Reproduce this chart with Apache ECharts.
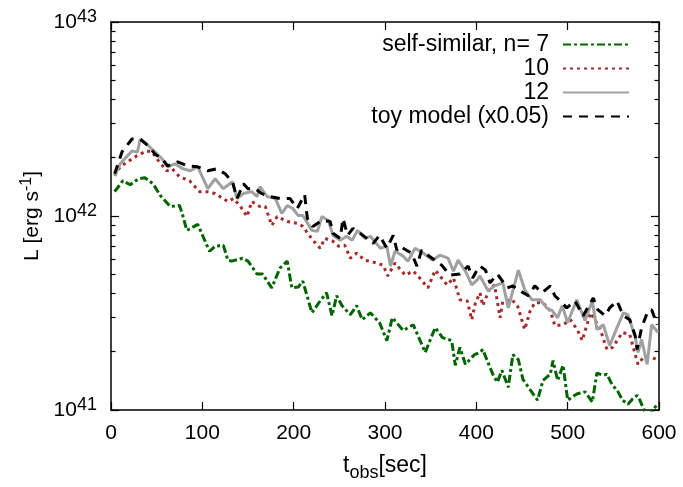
<!DOCTYPE html>
<html>
<head>
<meta charset="utf-8">
<script src="https://cdn.jsdelivr.net/npm/echarts@6/dist/echarts.min.js"></script>
<style>
  html, body { margin: 0; padding: 0; background: #fff; }
  #chart { width: 683px; height: 487px; }
</style>
</head>
<body>
<div id="chart"></div>
<script>
// Light curves L(t_obs): [time in s, luminosity in erg/s]
const selfSimilarN7 = [
  [4,13.35e41],[13,15.2e41],[21,14.5e41],[30,15.56e41],[37,15.74e41],[46,14.67e41],[54,12.74e41],[65,11.19e41],
  [75,11.32e41],[78,10.3e41],[83,8.43e41],[95,9.05e41],[105,7.06e41],[108,6.58e41],[114,6.99e41],[123,7.06e41],
  [128,5.92e41],[132,5.85e41],[144,6.06e41],[150,5.85e41],[160,5.02e41],[166,5.02e41],[176,4.26e41],[185,5.39e41],
  [193,5.85e41],[198,4.26e41],[205,4.3e41],[210,4.62e41],[220,3.17e41],[229,3.65e41],[236,4.02e41],[242,3.06e41],
  [247,3.88e41],[253,3.45e41],[262,3.10e41],[269,3.45e41],[275,2.92e41],[284,3.17e41],[294,2.82e41],[302,2.28e41],
  [308,2.99e41],[320,2.57e41],[331,2.75e41],[344,1.98e41],[355,2.66e41],[363,2.36e41],[373,2.28e41],[377,1.70e41],
  [382,2.10e41],[388,1.72e41],[398,1.93e41],[404,1.98e41],[407,2.05e41],[418,1.53e41],[423,1.39e41],[428,1.60e41],
  [435,1.31e41],[440,1.93e41],[446,1.82e41],[451,1.44e41],[459,1.27e41],[467,1.125e41],[473,1.42e41],[481,1.53e41],
  [484,1.80e41],[489,1.42e41],[495,1.70e41],[500,1.125e41],[510,1.21e41],[519,1.24e41],[527,1.10e41],[532,1.55e41],
  [539,1.51e41],[543,1.53e41],[549,1.34e41],[554,1.27e41],[560,1.125e41],[566,1.07e41],[571,1.14e41],[576,1.19e41],
  [579,1.125e41],[585,0.97e41],[590,0.95e41],[598,1.07e41]
];
const selfSimilarN10 = [
  [4,16.12e41],[10,17.93e41],[18,19.01e41],[28,20.4e41],[39,21.65e41],[45,21.39e41],[52,19.24e41],[61,17.1e41],
  [67,17.5e41],[75,15.94e41],[86,15.2e41],[97,13.35e41],[105,13.35e41],[114,13.05e41],[128,11.87e41],[134,12.3e41],
  [141,11.32e41],[149,9.94e41],[154,11.87e41],[163,11.19e41],[169,11.19e41],[176,8.94e41],[182,9.94e41],[193,9.37e41],
  [204,9.16e41],[210,8.84e41],[221,7.50e41],[229,6.82e41],[234,7.67e41],[243,7.41e41],[249,6.99e41],[256,7.06e41],
  [262,6.06e41],[269,6.43e41],[278,5.92e41],[291,5.72e41],[298,5.58e41],[303,4.91e41],[311,5.72e41],[322,4.96e41],
  [331,5.20e41],[338,4.79e41],[347,4.26e41],[355,5.26e41],[362,4.79e41],[368,4.41e41],[375,4.79e41],[382,3.70e41],
  [390,3.65e41],[395,2.92e41],[399,3.57e41],[404,4.02e41],[407,3.45e41],[415,4.26e41],[420,4.41e41],[426,2.99e41],
  [429,3.65e41],[439,3.70e41],[445,3.45e41],[453,2.60e41],[459,3.25e41],[464,3.57e41],[473,3.57e41],[481,3.25e41],
  [486,2.72e41],[495,2.75e41],[503,2.92e41],[511,2.57e41],[516,2.28e41],[525,3.17e41],[535,2.66e41],[543,2.05e41],
  [549,2.10e41],[560,2.51e41],[568,2.45e41],[574,1.93e41],[577,1.72e41],[583,1.87e41],[590,1.87e41],[599,1.82e41]
];
const selfSimilarN12 = [
  [4,16.12e41],[10,18.57e41],[23,21.65e41],[29,21.39e41],[32,24.93e41],[39,23.5e41],[48,21.39e41],[56,19.7e41],
  [62,17.93e41],[70,18.57e41],[79,17.5e41],[87,17.1e41],[95,17.93e41],[106,13.83e41],[114,15.56e41],[123,13.83e41],
  [133,15.02e41],[138,12.3e41],[145,13.05e41],[154,13.35e41],[160,12.6e41],[163,14.17e41],[171,12.6e41],[180,12.3e41],
  [187,10.3e41],[193,11.32e41],[199,10.93e41],[205,10.05e41],[210,10.05e41],[220,8.43e41],[226,8.33e41],[231,9.94e41],
  [238,9.49e41],[243,7.95e41],[251,7.50e41],[258,7.86e41],[264,7.50e41],[270,8.43e41],[278,7.67e41],[284,7.86e41],
  [295,6.82e41],[302,6.99e41],[306,5.52e41],[311,6.58e41],[320,6.21e41],[325,5.85e41],[333,6.82e41],[342,6.43e41],
  [352,5.92e41],[360,6.28e41],[369,6.06e41],[375,5.20e41],[380,5.92e41],[388,5.20e41],[395,4.41e41],[401,4.68e41],
  [404,4.91e41],[413,4.11e41],[420,4.36e41],[429,4.52e41],[435,3.36e41],[446,5.26e41],[453,4.16e41],[461,3.70e41],
  [470,3.70e41],[477,3.36e41],[483,3.25e41],[489,2.99e41],[494,3.45e41],[500,2.82e41],[510,3.70e41],[519,2.89e41],
  [527,3.65e41],[532,2.60e41],[539,2.75e41],[546,2.15e41],[554,2.66e41],[561,3.17e41],[566,3.10e41],[574,2.36e41],
  [577,1.98e41],[581,2.31e41],[587,1.72e41],[592,2.75e41],[599,2.51e41]
];
const toyModel = [
  [4,16.5e41],[12,21.39e41],[23,24.93e41],[32,24.93e41],[41,22.95e41],[48,20.9e41],[56,19.7e41],[62,18.13e41],
  [73,19.01e41],[84,18.13e41],[95,17.93e41],[106,17.1e41],[116,17.5e41],[125,16.5e41],[133,15.02e41],[138,12.3e41],
  [145,14.67e41],[150,13.83e41],[158,13.83e41],[165,13.05e41],[174,12.6e41],[185,12.3e41],[196,12.3e41],[204,10.93e41],
  [212,12.9e41],[215,9.71e41],[221,8.84e41],[231,9.49e41],[240,9.37e41],[243,8.14e41],[251,7.67e41],[254,9.71e41],
  [259,7.95e41],[265,8.63e41],[273,8.14e41],[287,7.23e41],[294,7.95e41],[302,6.82e41],[309,7.95e41],[313,6.66e41],
  [316,6.99e41],[329,6.43e41],[335,5.52e41],[340,6.66e41],[347,6.28e41],[362,5.58e41],[371,4.96e41],[382,5.02e41],
  [391,5.52e41],[396,4.79e41],[402,5.39e41],[404,5.52e41],[410,5.26e41],[415,4.52e41],[423,5.02e41],[434,4.26e41],
  [440,4.36e41],[448,4.11e41],[457,3.88e41],[464,4.36e41],[472,4.02e41],[481,4.36e41],[486,3.88e41],[492,3.65e41],
  [499,3.36e41],[508,3.65e41],[517,3.06e41],[528,3.78e41],[533,3.29e41],[541,3.06e41],[546,3.36e41],[554,3.65e41],
  [561,3.06e41],[568,2.92e41],[574,2.41e41],[576,2.05e41],[581,2.66e41],[588,3.25e41],[592,3.29e41],[598,2.75e41]
];

const seriesNames = ['self-similar, n= 7', '10', '12', 'toy model (x0.05)'];
const xTicks = { min: 0, max: 600, step: 100 };
const yRange = { min: 1e41, max: 1e43 };
// minor log ticks 2..9 in each decade
const yMinorTicks = [2e41,3e41,4e41,5e41,6e41,7e41,8e41,9e41,2e42,3e42,4e42,5e42,6e42,7e42,8e42,9e42];

const FONT = 'Liberation Sans, Arial, Helvetica, sans-serif';
const AX = '#000';

const chart = echarts.init(document.getElementById('chart'), null, { renderer: 'canvas' });

function logAxis(pos, opts) {
  return Object.assign({
    type: 'log', logBase: 10, min: yRange.min, max: yRange.max, interval: 1,
    position: pos,
    axisLine: { show: true, lineStyle: { color: AX, width: 1.5 } },
    axisTick: { show: true, inside: true, length: 8, lineStyle: { color: AX, width: 1.2 } },
    axisLabel: { show: false },
    splitLine: { show: false },
    minorTick: { show: false }
  }, opts);
}

const option = {
  animation: false,
  backgroundColor: '#fff',
  textStyle: { fontFamily: FONT },
  grid: { left: 111, right: 24, top: 22, bottom: 74, containLabel: false },
  legend: {
    orient: 'vertical',
    align: 'right',
    right: 48,
    top: 28,
    itemWidth: 66,
    itemHeight: 10,
    itemGap: 1,
    itemStyle: { opacity: 0, borderWidth: 0 },
    textStyle: { fontFamily: FONT, fontSize: 23, color: '#000', padding: [0, 9, 0, 0] },
    data: seriesNames
  },
  xAxis: [
    {
      type: 'value', min: xTicks.min, max: xTicks.max, interval: xTicks.step, position: 'bottom',
      axisLine: { show: true, onZero: false, lineStyle: { color: AX, width: 1.5 } },
      axisTick: { show: true, inside: true, length: 8, lineStyle: { color: AX, width: 1.2 } },
      axisLabel: { show: true, color: '#000', fontFamily: FONT, fontSize: 21, margin: 13 },
      splitLine: { show: false },
      name: 't{sub|obs}[sec]',
      nameLocation: 'middle',
      nameGap: 39,
      nameTextStyle: {
        color: '#000', fontFamily: FONT, fontSize: 23,
        rich: { sub: { fontSize: 18, fontFamily: FONT, color: '#000', verticalAlign: 'bottom', padding: [15, 0, 0, 0] } }
      }
    },
    {
      type: 'value', min: xTicks.min, max: xTicks.max, interval: xTicks.step, position: 'top',
      axisLine: { show: true, onZero: false, lineStyle: { color: AX, width: 1.5 } },
      axisTick: { show: true, inside: true, length: 8, lineStyle: { color: AX, width: 1.2 } },
      axisLabel: { show: false },
      splitLine: { show: false }
    }
  ],
  yAxis: [
    logAxis('left', {
      axisLabel: {
        show: true, margin: 14, color: '#000', fontFamily: FONT, fontSize: 21,
        formatter: v => '10{sup|' + Math.round(Math.log10(v)) + '}',
        rich: { sup: { fontSize: 18, fontFamily: FONT, color: '#000', verticalAlign: 'top', padding: [0, 0, 10, 0] } }
      },
      name: 'L [erg s{sup|-1}]',
      nameLocation: 'middle',
      nameGap: 66,
      nameTextStyle: {
        color: '#000', fontFamily: FONT, fontSize: 21,
        rich: { sup: { fontSize: 16, fontFamily: FONT, color: '#000', verticalAlign: 'top', padding: [0, 0, 10, 0] } }
      }
    }),
    logAxis('left', {
      axisLine: { show: false },
      axisTick: { show: true, inside: true, length: 4.5, customValues: yMinorTicks, lineStyle: { color: AX, width: 1.2 } }
    }),
    logAxis('right', {}),
    logAxis('right', {
      axisLine: { show: false },
      axisTick: { show: true, inside: true, length: 4.5, customValues: yMinorTicks, lineStyle: { color: AX, width: 1.2 } }
    })
  ],
  series: [
    {
      name: seriesNames[0], type: 'line', data: selfSimilarN7, xAxisIndex: 0, yAxisIndex: 0,
      showSymbol: false, symbol: 'none', clip: true,
      lineStyle: { color: '#006400', width: 3, type: [8, 3, 3, 3] },
      itemStyle: { color: '#006400' }
    },
    {
      name: seriesNames[1], type: 'line', data: selfSimilarN10, xAxisIndex: 0, yAxisIndex: 0,
      showSymbol: false, symbol: 'none', clip: true,
      lineStyle: { color: '#a52a2a', width: 3, type: [3, 4] },
      itemStyle: { color: '#a52a2a' }
    },
    {
      name: seriesNames[2], type: 'line', data: selfSimilarN12, xAxisIndex: 0, yAxisIndex: 0,
      showSymbol: false, symbol: 'none', clip: true,
      lineStyle: { color: '#a0a0a0', width: 3, type: 'solid' },
      itemStyle: { color: '#a0a0a0' }
    },
    {
      name: seriesNames[3], type: 'line', data: toyModel, xAxisIndex: 0, yAxisIndex: 0,
      showSymbol: false, symbol: 'none', clip: true,
      lineStyle: { color: '#000000', width: 3, type: [9, 7] },
      itemStyle: { color: '#000000' }
    }
  ]
};

chart.setOption(option);
</script>
</body>
</html>
